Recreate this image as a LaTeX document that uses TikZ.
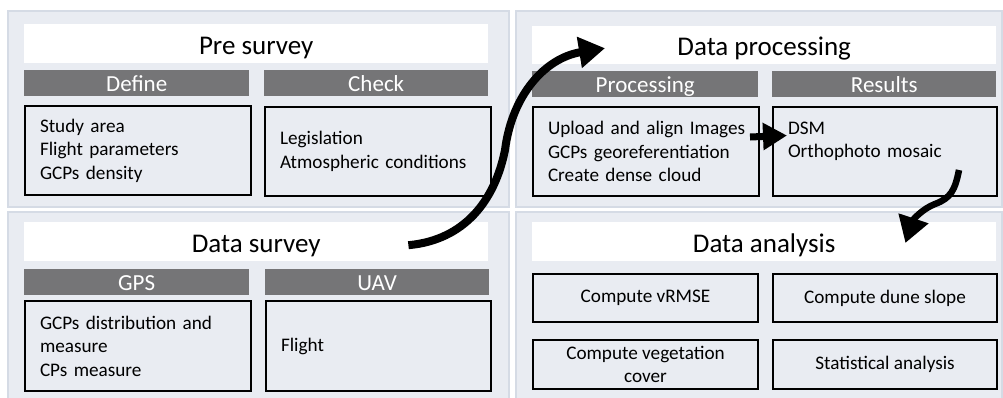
\documentclass[tikz,border=0pt]{standalone}
\usepackage{fontspec}
\setmainfont{Carlito}
\usetikzlibrary{arrows.meta,calc}

\definecolor{panelfill}{RGB}{233,236,242}
\definecolor{paneledge}{RGB}{213,219,229}
\definecolor{headgray}{RGB}{117,117,119}

\tikzset{
  panel/.style={fill=panelfill, draw=paneledge, line width=1.6pt},
  titlebox/.style={anchor=north west, fill=white, inner sep=0pt,
    text height=21pt, text depth=0pt,
    font=\fontsize{27}{32}\selectfont},
  headbox/.style={anchor=north west, fill=headgray, text=white, inner sep=0pt,
    text height=18pt, text depth=2pt,
    font=\fontsize{23}{27}\selectfont},
  listbox/.style={anchor=north west, fill=panelfill, draw=black, line width=2pt,
    inner xsep=15pt, inner ysep=0pt, align=left,
    font=\fontsize{19.2}{23.4}\selectfont},
  taskbox/.style={anchor=north west, fill=panelfill, draw=black, line width=2pt,
    inner sep=0pt, align=center,
    font=\fontsize{19.2}{23.4}\selectfont},
  flowarrow/.style={line width=#1, -{Triangle[length=26pt,width=30pt]}},
}

\begin{document}
\begin{tikzpicture}[x=1pt,y=-1pt]
\useasboundingbox (0,0) rectangle (1003,397);
\fill[white] (0,0) rectangle (1003,397);

% four stage panels
\begin{scope}
\clip (0,0) rectangle (1003,397);
\draw[panel] (8,11) rectangle (509,207);
\draw[panel] (516,11) rectangle (1002,207);
\draw[panel] (8,212) rectangle (509,402);
\draw[panel] (516,212) rectangle (1002,402);
\end{scope}

% Pre survey
\node[titlebox, minimum width=464pt, minimum height=39pt] (pstitle) at (24,24) {Pre survey};
\node[headbox, minimum width=225pt, minimum height=26pt] (psdef) at (24,70) {Define};
\node[headbox, minimum width=224pt, minimum height=26pt] (pschk) at (264,70) {Check};
\node[listbox, text width=196pt, minimum height=89pt] (psdefbox) at (24,105)
  {Study area\\Flight parameters\\GCPs density};
\node[listbox, text width=196pt, minimum height=89pt] (pschkbox) at (264,106)
  {Legislation\\Atmospheric conditions};

% Data processing
\node[titlebox, minimum width=464pt, minimum height=38pt] (dptitle) at (532,26) {Data processing};
\node[headbox, minimum width=226pt, minimum height=26pt] (dpproc) at (532,71) {Processing};
\node[headbox, minimum width=224pt, minimum height=26pt] (dpres) at (772,71) {Results};
\node[listbox, text width=196pt, minimum height=89pt] (procbox) at (532,106)
  {\makebox[0pt][l]{Upload and align Images}\\\makebox[0pt][l]{GCPs georeferentiation}\\Create dense cloud};
\node[listbox, text width=194pt, minimum height=89pt] (resbox) at (772,106)
  {DSM\\Orthophoto mosaic\\\mbox{}};

% Data survey
\node[titlebox, minimum width=464pt, minimum height=39pt] (dstitle) at (24,222) {Data survey};
\node[headbox, minimum width=225pt, minimum height=26pt] (dsgps) at (24,269) {GPS};
\node[headbox, minimum width=224pt, minimum height=26pt] (dsuav) at (265,269) {UAV};
\node[listbox, text width=196pt, minimum height=90pt] (gpsbox) at (24,300)
  {GCPs distribution and\\measure\\CPs measure};
\node[listbox, text width=195pt, minimum height=90pt] (uavbox) at (265,300)
  {Flight};

% Data analysis
\node[titlebox, minimum width=464pt, minimum height=39pt] (datitle) at (532,222) {Data analysis};
\node[taskbox, minimum width=225pt, minimum height=48pt] (darmse) at (532,273) {Compute vRMSE};
\node[taskbox, minimum width=224pt, minimum height=48pt] (daslope) at (772,273) {Compute dune slope};
\node[taskbox, minimum width=225pt, minimum height=49pt] (daveg) at (532,339)
  {Compute vegetation\\cover};
\node[taskbox, minimum width=224pt, minimum height=49pt] (dastat) at (772,339)
  {Statistical analysis};

% flow between the stages
\draw[flowarrow=8pt]
  ($(dstitle.east)+(-80,3.5)$) .. controls (465,240) and (495,200) .. (505,150)
  .. controls (512,95) and (545,58) .. ($(dptitle.west)+(73,3)$);
\draw[flowarrow=7pt, -{Triangle[length=24pt,width=26pt]}]
  ($(procbox.east)+(-10,-14.5)$) -- ($(resbox.west)+(15,-16)$);
\draw[flowarrow=6.5pt]
  ($(resbox.south east)+(-39,-27)$) .. controls (955,190) and (951,198) .. (935,204)
  .. controls (922,209) and (913,220) .. ($(datitle.north east)+(-91,21)$);
\end{tikzpicture}
\end{document}
